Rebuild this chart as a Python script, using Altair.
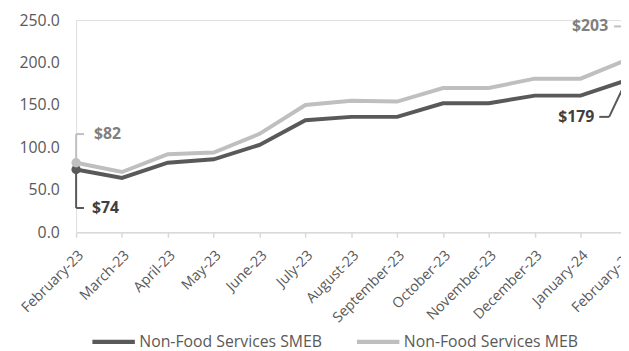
import altair as alt
import pandas as pd

months = ["February-23", "March-23", "April-23", "May-23", "June-23", "July-23",
          "August-23", "September-23", "October-23", "November-23", "December-23",
          "January-24", "February-24"]
smeb = [74, 64, 82, 86, 103, 132, 136, 136, 152, 152, 161, 161, 179]
meb = [82, 71, 92, 94, 116, 150, 155, 154, 170, 170, 181, 181, 203]
series_names = ["Non-Food Services SMEB", "Non-Food Services MEB"]
series_colors = ["#595959", "#bfbfbf"]
y_ticks = [0, 50, 100, 150, 200, 250]

FONT = "Open Sans"
W = 552
H = 215
X_END = 557.5

rows = []
for i, m in enumerate(months):
    rows.append({"month": m, "series": series_names[0], "value": smeb[i]})
    rows.append({"month": m, "series": series_names[1], "value": meb[i]})
df = pd.DataFrame(rows)

x_enc = alt.X(
    "month:N", sort=months,
    scale=alt.Scale(type="point", domain=months, range=[0, X_END], padding=0),
    axis=alt.Axis(title=None, labelAngle=-45, labelFontSize=14.5, labelColor="#595959",
                  labelFont=FONT, domainColor="#d9d9d9", domainWidth=1.5,
                  tickColor="#d9d9d9", tickWidth=1.5, tickSize=5, labelPadding=11),
)
y_enc = alt.Y(
    "value:Q",
    scale=alt.Scale(domain=[0, 250], nice=False, zero=True),
    axis=alt.Axis(title=None, values=y_ticks, format=".1f", grid=False, domain=False,
                  ticks=False, tickSize=0, labelPadding=17, labelFontSize=16,
                  labelColor="#595959", labelFont=FONT),
)
color_enc = alt.Color(
    "series:N",
    scale=alt.Scale(domain=series_names, range=series_colors),
    legend=alt.Legend(title=None, orient="none", legendX=14, legendY=302,
                      direction="horizontal", symbolType="stroke",
                      symbolStrokeWidth=4.5, symbolSize=1849, labelFontSize=16,
                      labelColor="#595959", labelFont=FONT, columnPadding=25,
                      labelOffset=2, labelLimit=0),
)

base = alt.Chart(df)
lines = base.mark_line(strokeWidth=4).encode(x=x_enc, y=y_enc, color=color_enc)
ends = base.transform_filter(
    alt.FieldOneOfPredicate(field="month", oneOf=[months[0], months[-1]])
).mark_point(filled=True, size=90, opacity=1).encode(
    x="month:N", y="value:Q",
    color=alt.Color("series:N", scale=alt.Scale(domain=series_names, range=series_colors), legend=None),
)


def annotation(month, value, label, text_color, line_color, dx, dy, align, segments):
    d = pd.DataFrame([{"month": month, "value": value, "label": label}])
    layers = []
    for (xo, yo, x2o, y2o) in segments:
        layers.append(
            alt.Chart(d).mark_rule(strokeWidth=2, color=line_color,
                                   xOffset=xo, yOffset=yo, x2Offset=x2o, y2Offset=y2o)
            .encode(x="month:N", x2=alt.X2("month"), y="value:Q", y2=alt.Y2("value"))
        )
    layers.append(
        alt.Chart(d).mark_text(dx=dx, dy=dy, align=align, baseline="middle", fontSize=16,
                               fontWeight="bold", font=FONT, color=text_color)
        .encode(x="month:N", y="value:Q", text="label:N")
    )
    return layers


ann = []
ann += annotation(months[0], meb[0], "$82", "#7f7f7f", "#bfbfbf", 18, -29, "left",
                  [(0, 0, 0, -29), (0, -29, 8, -29)])
ann += annotation(months[0], smeb[0], "$74", "#404040", "#595959", 16, 39, "left",
                  [(0, 0, 0, 39), (0, 39, 8, 39)])
ann += annotation(months[-1], meb[-1], "$203", "#7f7f7f", "#bfbfbf", -18.5, -34, "right",
                  [(0, 0, 0, -34), (0, -34, -12.5, -34)])
ann += annotation(months[-1], smeb[-1], "$179", "#404040", "#595959", -32.5, 37, "right",
                  [(0, 0, -17.5, 37), (-17.5, 37, -27.5, 37)])

chart = alt.layer(lines, *ann, ends).properties(
    width=W, height=H,
    autosize=alt.AutoSizeParams(type="none"),
    padding={"left": 69, "top": 10, "right": 0, "bottom": 118},
).configure_view(stroke=None).configure(font=FONT)

chart.save("out.html", embed_options={"renderer": "svg", "actions": False})
